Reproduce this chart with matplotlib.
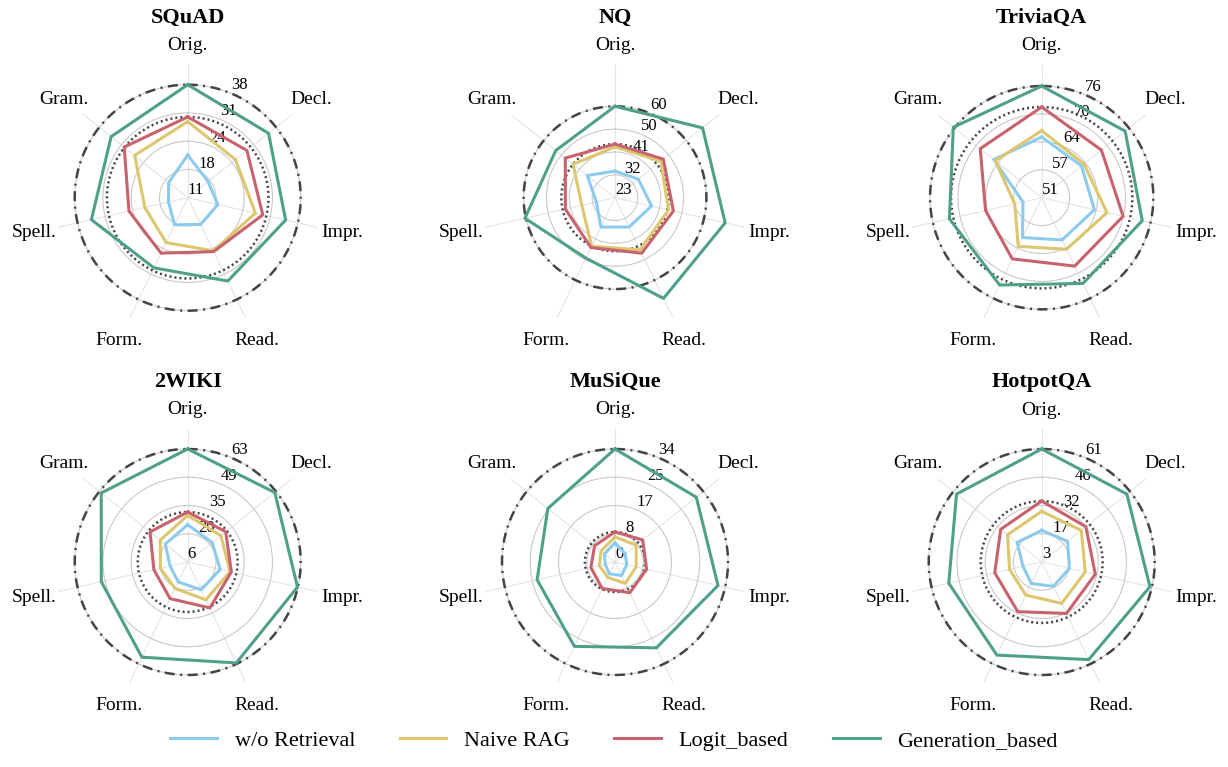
import numpy as np
import matplotlib
matplotlib.use("Agg")
import matplotlib.pyplot as plt

plt.rcParams.update({
    "font.family": "serif",
    "font.serif": ["Liberation Serif", "DejaVu Serif"],
    "mathtext.fontset": "stix",
})

# ---------------- data ----------------
attributes = ["Orig.", "Decl.", "Impr.", "Read.", "Form.", "Spell.", "Gram."]
methods = ["w/o Retrieval", "Naive RAG", "Logit_based", "Generation_based"]
datasets = ["SQuAD", "NQ", "TriviaQA", "2WIKI", "MuSiQue", "HotpotQA"]

# rows: w/o Retrieval, Naive RAG, Logit_based, Generation_based
squad = [
    [21.2, 17.2, 18.4, 18.1, 18.2, 15.7, 16.8],
    [29.2, 25.6, 27.6, 25.1, 22.9, 21.5, 27.2],
    [30.3, 29.1, 29.4, 25.3, 25.7, 25.4, 30.4],
    [38.0, 35.7, 35.0, 33.1, 29.6, 34.6, 34.4],
]
nq = [
    [33.5, 34.8, 37.9, 35.9, 35.9, 30.5, 37.1],
    [43.3, 46.4, 44.9, 46.1, 44.5, 36.5, 44.4],
    [44.4, 47.7, 46.9, 47.6, 45.1, 43.3, 48.4],
    [59.6, 67.9, 68.3, 67.8, 49.8, 60.0, 53.3],
]
triviaqa = [
    [64.6, 62.4, 63.1, 61.5, 60.9, 55.3, 64.7],
    [66.0, 63.1, 66.0, 63.8, 63.1, 57.2, 64.3],
    [71.3, 68.1, 69.7, 68.0, 66.2, 63.9, 68.6],
    [76.0, 74.9, 74.1, 72.3, 72.7, 72.2, 76.3],
]
wiki2 = [
    [25.0, 22.0, 23.0, 21.8, 17.3, 15.3, 20.7],
    [29.7, 27.6, 28.1, 27.4, 21.0, 20.3, 23.9],
    [31.4, 30.7, 28.8, 31.9, 26.7, 23.7, 30.5],
    [63.2, 62.4, 63.0, 62.7, 59.5, 50.9, 62.0],
]
musique = [
    [5.7, 3.9, 3.6, 4.5, 3.9, 3.0, 4.0],
    [7.5, 8.1, 6.5, 7.1, 5.1, 4.8, 5.3],
    [9.0, 10.6, 9.7, 10.2, 8.8, 7.4, 7.8],
    [33.8, 31.1, 31.6, 28.5, 28.0, 23.9, 25.7],
]
hotpotqa = [
    [18.9, 19.7, 17.2, 16.5, 14.9, 12.5, 18.8],
    [28.7, 28.7, 25.6, 26.3, 21.5, 19.6, 25.1],
    [34.0, 31.7, 30.9, 32.0, 31.0, 27.4, 29.6],
    [60.8, 58.7, 59.8, 58.4, 55.8, 51.7, 58.7],
]
all_scores = [squad, nq, triviaqa, wiki2, musique, hotpotqa]

# radial axis floor per dataset
r_floor = [11.0, 22.8, 51.0, 6.2, 0.0, 2.6]

colors = ["#8ccbee", "#dcc66e", "#c8626e", "#4fa08b"]

# ---------------- layout (pixels) ----------------
W, H = 1228, 767
R = 133            # spoke length
R_DATA = 113       # radius of the largest value
col_x = [187.7, 615.0, 1041.7]
row_y = [197.7, 562.0]
label_dist = [152, 158, 158, 159, 159, 158, 158]

fig = plt.figure(figsize=(W / 100, H / 100), dpi=100)

angles = np.arange(len(attributes)) * 2 * np.pi / len(attributes)
loop = np.append(angles, angles[0])
ring = np.linspace(0, 2 * np.pi, 300)

for i, (name, scores) in enumerate(zip(datasets, all_scores)):
    cx, cy = col_x[i % 3], row_y[i // 3]
    ax = fig.add_axes([(cx - R) / W, 1 - (cy + R) / H, 2 * R / W, 2 * R / H],
                      projection="polar")
    ax.set_theta_offset(np.pi / 2)
    ax.set_theta_direction(-1)

    lo = r_floor[i]
    top = scores[3][0]
    peak = max(max(s) for s in scores)
    rmax = lo + (peak - lo) * R / R_DATA
    ax.set_ylim(lo, rmax)

    ticks = np.linspace(lo, top, 5)
    ax.set_yticks(ticks)
    ax.set_yticklabels([f"{t:.0f}" for t in ticks], fontsize=12)
    ax.set_rlabel_position(22.5)
    ax.set_xticks(angles)
    ax.set_xticklabels([])
    ax.tick_params(axis="both", length=0)
    ax.yaxis.grid(True, color="#c9c9c9", lw=0.8)
    ax.xaxis.grid(True, color="#e4e4e4", lw=0.8)
    ax.spines["polar"].set_visible(False)

    # reference rings at the Orig. scores
    ax.plot(ring, np.full_like(ring, scores[3][0]), color="#444444", lw=1.8,
            ls=(0, (4, 2.2, 0.8, 2.2)), zorder=2)
    ax.plot(ring, np.full_like(ring, scores[2][0]), color="#444444", lw=1.8,
            ls=(0, (0.8, 1.2)), zorder=2)

    for vals, c, m in zip(scores, colors, methods):
        ax.plot(loop, vals + vals[:1], color=c, lw=2.2, label=m, zorder=3)

    for a, lab, d in zip(angles, attributes, label_dist):
        ax.text(a, lo + (rmax - lo) * d / R, lab, ha="center", va="center",
                fontsize=14)

    ax.text(0.5, 0.5 + 180 / (2 * R), name, transform=ax.transAxes,
            ha="center", va="center", fontsize=16, fontweight="bold")

handles, labels = ax.get_legend_handles_labels()
fig.legend(handles, labels, loc="lower center", bbox_to_anchor=(0.5, -0.005),
           ncol=4, frameon=False, fontsize=16, handlelength=2.1,
           handletextpad=0.8, columnspacing=2.0)

fig.savefig("out.png", dpi=100)
